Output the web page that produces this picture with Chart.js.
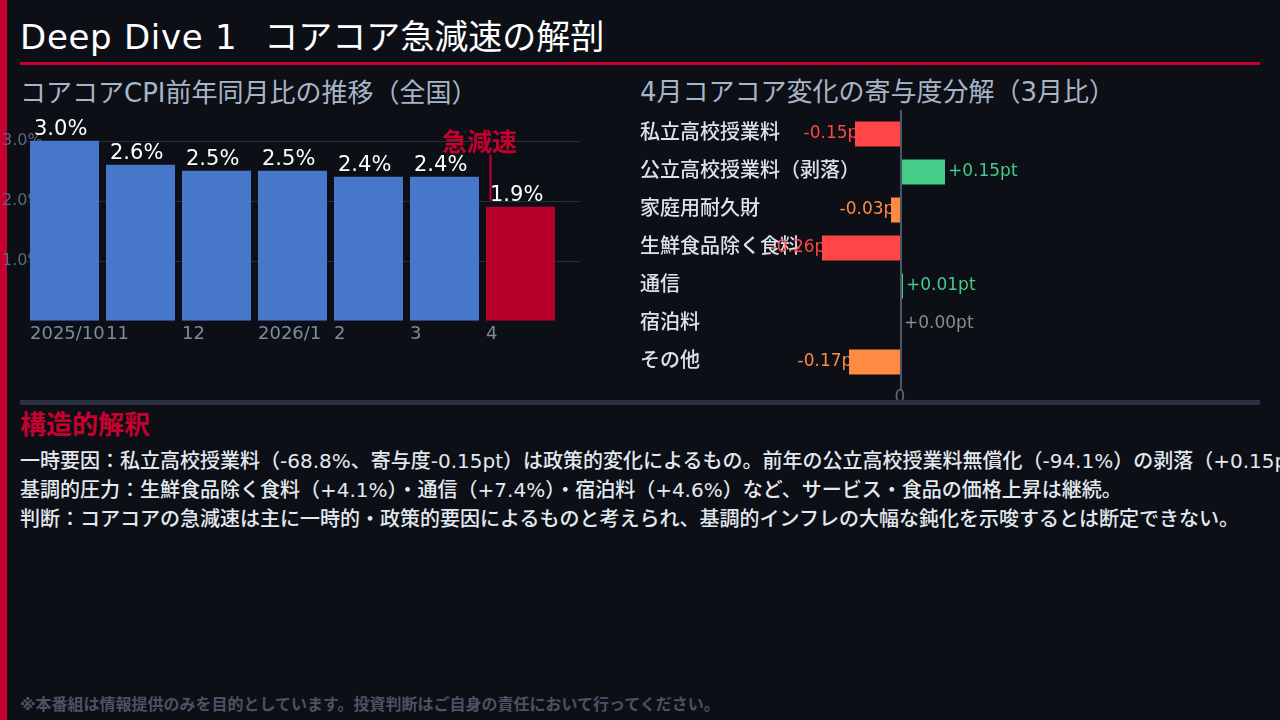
<!DOCTYPE html>
<html lang="ja">
<head>
<meta charset="utf-8">
<script src="https://cdn.jsdelivr.net/npm/chart.js@4.4.1/dist/chart.umd.min.js"></script>
<style>
html,body{margin:0;padding:0;}
body{width:1280px;height:720px;overflow:hidden;background:#0c0f16;position:relative;
  font-family:"DejaVu Sans","Noto Sans CJK JP",sans-serif;}
.abs{position:absolute;white-space:nowrap;}
#leftbar{left:0;top:0;width:7px;height:720px;background:#c8002f;}
#title{left:20px;top:15px;font-size:34px;line-height:44px;color:#ffffff;}
#title .lat{letter-spacing:0.7px;margin-right:4px;}
#rule{left:20px;top:62px;width:1240px;height:3px;background:#c8002f;}
.sub{font-size:26px;line-height:34px;color:#a9b5c6;}
#sepband{left:20px;top:400px;width:1240px;height:5px;background:#2a3040;z-index:5;}
#interp{left:20px;top:408px;font-size:26px;line-height:34px;color:#c8002f;font-weight:bold;}
.body{left:20px;font-size:20px;line-height:28px;color:#e3e8ef;font-weight:500;}
#foot{left:20px;top:693px;font-size:16px;line-height:24px;color:#4b5263;font-weight:bold;}
canvas{position:absolute;}
</style>
</head>
<body>
<div id="leftbar" class="abs"></div>
<div id="title" class="abs"><span class="lat">Deep Dive 1&nbsp;&nbsp;</span>コアコア急減速の解剖</div>
<div id="rule" class="abs"></div>
<div class="abs sub" style="left:20px;top:76px;">コアコアCPI前年同月比の推移（全国）</div>
<div class="abs sub" style="left:640px;top:75px;">4月コアコア変化の寄与度分解（3月比）</div>

<canvas id="cpiChart" width="600" height="250" style="left:0;top:100px;"></canvas>
<canvas id="contribChart" width="640" height="300" style="left:630px;top:105px;"></canvas>

<div id="sepband" class="abs"></div>
<div id="interp" class="abs">構造的解釈</div>
<div class="abs body" style="top:447px;">一時要因：私立高校授業料（-68.8%、寄与度-0.15pt）は政策的変化によるもの。前年の公立高校授業料無償化（-94.1%）の剥落（+0.15pt）が相殺。</div>
<div class="abs body" style="top:476px;">基調的圧力：生鮮食品除く食料（+4.1%）・通信（+7.4%）・宿泊料（+4.6%）など、サービス・食品の価格上昇は継続。</div>
<div class="abs body" style="top:505px;">判断：コアコアの急減速は主に一時的・政策的要因によるものと考えられ、基調的インフレの大幅な鈍化を示唆するとは断定できない。</div>
<div id="foot" class="abs">※本番組は情報提供のみを目的としています。投資判断はご自身の責任において行ってください。</div>

<script>
// ---- data ----
const months = ['2025/10', '11', '12', '2026/1', '2', '3', '4'];
const coreCoreYoY = [3.0, 2.6, 2.5, 2.5, 2.4, 2.4, 1.9];
const cpiTicks = [1, 2, 3];
const annotationText = '急減速';

const contribCategories = ['私立高校授業料', '公立高校授業料（剥落）', '家庭用耐久財', '生鮮食品除く食料', '通信', '宿泊料', 'その他'];
const contribValues = [-0.15, 0.15, -0.03, -0.26, 0.01, 0.00, -0.17];
const contribTicks = [0];

// ---- styles ----
const FONT = '"DejaVu Sans","Noto Sans CJK JP",sans-serif';
const BLUE = '#4677c9', DARKRED = '#b8002c', ANNOT = '#c4002f';
const RED = '#ff4545', ORANGE = '#ff8a42', GREEN = '#45cc88', GRAY = '#8c8c8c';
const contribColors = [RED, GREEN, ORANGE, RED, GREEN, GRAY, ORANGE];
const cpiColors = months.map((m, i) => i === months.length - 1 ? DARKRED : BLUE);

Chart.defaults.font.family = FONT;
Chart.defaults.animation = false;

// ---- left chart ----
const cpiPlugin = {
  id: 'cpiDeco',
  beforeDatasetsDraw(chart) {
    const {ctx, chartArea, scales} = chart;
    ctx.save();
    ctx.strokeStyle = '#272d3b';
    ctx.lineWidth = 1;
    cpiTicks.forEach(v => {
      const y = Math.round(scales.y.getPixelForValue(v)) + 0.5;
      ctx.beginPath();
      ctx.moveTo(chartArea.left, y);
      ctx.lineTo(chartArea.right + 22, y);
      ctx.stroke();
    });
    ctx.restore();
  },
  afterDatasetsDraw(chart) {
    const {ctx} = chart;
    const meta = chart.getDatasetMeta(0);
    ctx.save();
    ctx.font = '21px ' + FONT;
    ctx.fillStyle = '#ffffff';
    ctx.textAlign = 'left';
    ctx.textBaseline = 'alphabetic';
    meta.data.forEach((bar, i) => {
      const left = bar.x - bar.width / 2;
      ctx.fillText(coreCoreYoY[i].toFixed(1) + '%', left + 4, bar.y - 6);
    });
    // annotation on last bar
    const last = meta.data[meta.data.length - 1];
    const lx = last.x - last.width / 2;
    ctx.strokeStyle = ANNOT;
    ctx.lineWidth = 2;
    ctx.beginPath();
    ctx.moveTo(lx + 4.5, last.y - 52);
    ctx.lineTo(lx + 4.5, last.y - 6);
    ctx.stroke();
    ctx.fillStyle = ANNOT;
    ctx.font = 'bold 25px ' + FONT;
    ctx.textAlign = 'center';
    ctx.textBaseline = 'middle';
    ctx.fillText(annotationText, lx - 6.5, last.y - 62);
    ctx.restore();
  }
};

new Chart(document.getElementById('cpiChart'), {
  type: 'bar',
  data: {
    labels: months,
    datasets: [{
      data: coreCoreYoY,
      backgroundColor: cpiColors,
      borderWidth: 0,
      barPercentage: 0.908,
      categoryPercentage: 1.0
    }]
  },
  options: {
    responsive: false,
    layout: {padding: {left: 2, right: 41.5, top: 10.7, bottom: 0}},
    plugins: {legend: {display: false}, tooltip: {enabled: false}},
    scales: {
      y: {
        min: 0, max: 3.5,
        afterBuildTicks: s => { s.ticks = cpiTicks.map(v => ({value: v})); },
        afterFit: s => { s.width = 24.5; },
        grid: {display: false, drawTicks: false},
        border: {display: false},
        ticks: {color: '#5d6777', font: {size: 16}, mirror: true, crossAlign: 'near', padding: -24.5,
          callback: v => Number(v).toFixed(1) + '%'}
      },
      x: {
        afterFit: s => { s.height = 29.3; },
        grid: {display: false, drawTicks: false},
        border: {display: false},
        ticks: {color: '#7f8a9a', font: {size: 18}, align: 'start', labelOffset: -34.5,
          padding: 3, autoSkip: false, maxRotation: 0, minRotation: 0}
      }
    }
  },
  plugins: [cpiPlugin]
});

// ---- right chart ----
const contribPlugin = {
  id: 'contribDeco',
  beforeDatasetsDraw(chart) {
    const {ctx} = chart;
    const meta = chart.getDatasetMeta(0);
    ctx.save();
    ctx.font = '17px ' + FONT;
    ctx.textBaseline = 'middle';
    meta.data.forEach((bar, i) => {
      const v = contribValues[i];
      if (v < 0) {
        ctx.fillStyle = contribColors[i];
        ctx.textAlign = 'right';
        ctx.fillText(v.toFixed(2) + 'pt', bar.x + 10, bar.y);
      }
    });
    ctx.restore();
  },
  afterDatasetsDraw(chart) {
    const {ctx, chartArea, scales} = chart;
    const meta = chart.getDatasetMeta(0);
    ctx.save();
    ctx.font = '17px ' + FONT;
    ctx.textBaseline = 'middle';
    ctx.textAlign = 'left';
    meta.data.forEach((bar, i) => {
      const v = contribValues[i];
      if (v >= 0) {
        ctx.fillStyle = contribColors[i];
        ctx.fillText('+' + v.toFixed(2) + 'pt', bar.x + (v > 0 ? 3 : 4), bar.y);
      }
    });
    const x0 = scales.x.getPixelForValue(0);
    ctx.fillStyle = '#4a5567';
    ctx.fillRect(x0, chartArea.top - 5, 2, chartArea.bottom - chartArea.top + 14);
    ctx.restore();
  }
};

new Chart(document.getElementById('contribChart'), {
  type: 'bar',
  data: {
    labels: contribCategories,
    datasets: [{
      data: contribValues,
      backgroundColor: contribColors,
      borderWidth: 0,
      barPercentage: 0.66,
      categoryPercentage: 1.0
    }]
  },
  options: {
    indexAxis: 'y',
    responsive: false,
    layout: {padding: {left: 10, right: 280, top: 10, bottom: 0}},
    plugins: {legend: {display: false}, tooltip: {enabled: false}},
    scales: {
      y: {
        afterFit: s => { s.width = 170; },
        grid: {display: false, drawTicks: false},
        border: {display: false},
        ticks: {color: '#dbe2eb', font: {size: 20, weight: 500}, mirror: true, crossAlign: 'near',
          padding: -170, autoSkip: false}
      },
      x: {
        min: -0.3, max: 0.3,
        afterBuildTicks: s => { s.ticks = contribTicks.map(v => ({value: v})); },
        afterFit: s => { s.height = 24; },
        grid: {display: false, drawTicks: false},
        border: {display: false},
        ticks: {color: '#5d6777', font: {size: 17}, padding: 6, callback: v => String(v)}
      }
    }
  },
  plugins: [contribPlugin]
});
</script>
</body>
</html>
